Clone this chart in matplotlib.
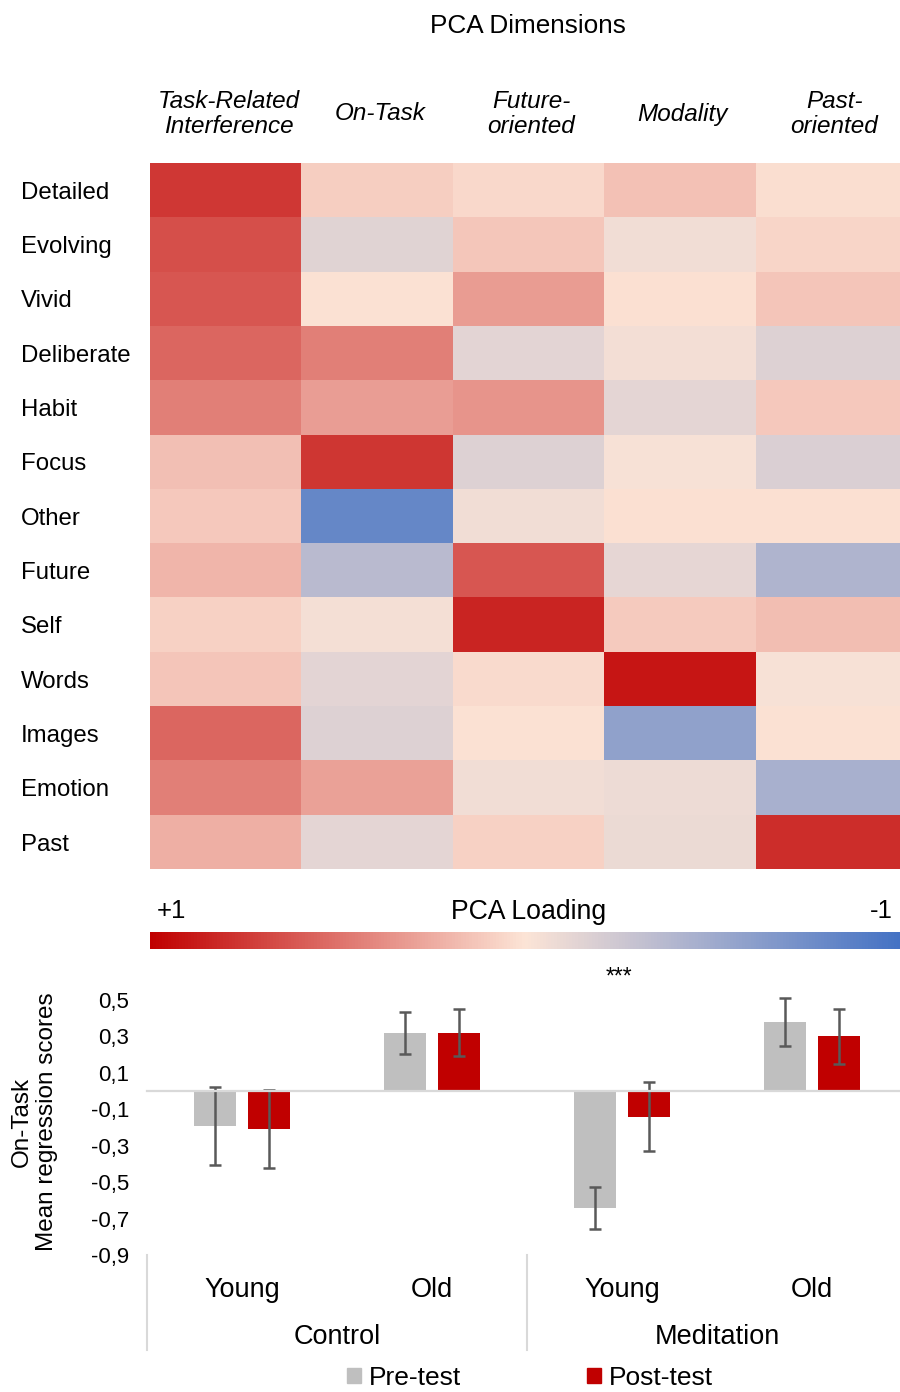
import numpy as np
import matplotlib
matplotlib.use("Agg")
import matplotlib.pyplot as plt
from matplotlib.colors import LinearSegmentedColormap
from matplotlib.transforms import blended_transform_factory
from matplotlib.patches import Patch

plt.rcParams['font.family'] = ['Liberation Sans', 'DejaVu Sans']

# ---------------- data ----------------
dimensions = ["Task-Related\nInterference", "On-Task", "Future-\noriented", "Modality", "Past-\noriented"]
items = ["Detailed", "Evolving", "Vivid", "Deliberate", "Habit", "Focus", "Other",
         "Future", "Self", "Words", "Images", "Emotion", "Past"]
loadings = np.array([
    [0.75, 0.10, 0.05, 0.15, 0.03],    # Detailed
    [0.65, -0.15, 0.13, -0.06, 0.07],  # Evolving
    [0.62, 0.01, 0.32, 0.02, 0.14],    # Vivid
    [0.55, 0.44, -0.14, -0.05, -0.17], # Deliberate
    [0.44, 0.31, 0.35, -0.13, 0.12],   # Habit
    [0.16, 0.76, -0.17, -0.03, -0.18], # Focus
    [0.12, -0.82, -0.06, 0.02, 0.02],  # Other
    [0.21, -0.36, 0.62, -0.12, -0.42], # Future
    [0.08, -0.04, 0.84, 0.11, 0.17],   # Self
    [0.14, -0.14, 0.04, 0.90, -0.03],  # Words
    [0.55, -0.17, 0.01, -0.58, 0.01],  # Images
    [0.44, 0.29, -0.06, -0.08, -0.46], # Emotion
    [0.23, -0.13, 0.08, -0.09, 0.80],  # Past
])

groups = ["Control", "Meditation"]
ages = ["Young", "Old", "Young", "Old"]
pre = [-0.19, 0.32, -0.64, 0.38]
pre_err = [0.215, 0.115, 0.115, 0.13]
post = [-0.21, 0.32, -0.14, 0.30]
post_err = [0.215, 0.13, 0.19, 0.15]
yticks = [0.5, 0.3, 0.1, -0.1, -0.3, -0.5, -0.7, -0.9]
ytick_labels = ["0,5", "0,3", "0,1", "-0,1", "-0,3", "-0,5", "-0,7", "-0,9"]
series_names = ["Pre-test", "Post-test"]

# ---------------- figure ----------------
W, H = 900, 1392
fig = plt.figure(figsize=(W / 100, H / 100), dpi=100)

def px_axes(x0, y0, x1, y1):
    return fig.add_axes([x0 / W, 1 - y1 / H, (x1 - x0) / W, (y1 - y0) / H])

def fy(y):
    return 1 - y / H

cmap = LinearSegmentedColormap.from_list(
    "pca", [(0.0, "#4472C4"), (0.5, "#FCE4D6"), (1.0, "#C00000")])

# ---- heatmap (extends slightly past the right edge, as in the original) ----
ax = px_axes(150, 163, 907, 869)
nr, nc = loadings.shape
ax.pcolormesh(np.arange(nc + 1), np.arange(nr + 1), loadings, cmap=cmap, vmin=-1, vmax=1)
ax.set_xlim(0, nc)
ax.set_ylim(nr, 0)
ax.set_xticks([])
ax.set_yticks([])
for s in ax.spines.values():
    s.set_visible(False)

tr_rows = blended_transform_factory(fig.transFigure, ax.transData)
for i, name in enumerate(items):
    ax.text(21 / W, i + 0.55, name, transform=tr_rows, ha="left", va="center", fontsize=17.3)

tr_cols = blended_transform_factory(ax.transData, fig.transFigure)
for j, name in enumerate(dimensions):
    ax.text(j + 0.52, fy(114), name, transform=tr_cols, ha="center", va="center",
            fontsize=17.5, fontstyle="italic", linespacing=1.08)

fig.text(528 / W, fy(26), "PCA Dimensions", ha="center", va="center", fontsize=18.8)

# ---- colorbar ----
cax = px_axes(150, 932, 900, 949)
sm = plt.cm.ScalarMappable(cmap=cmap, norm=plt.Normalize(-1, 1))
cb = fig.colorbar(sm, cax=cax, orientation="horizontal")
cax.invert_xaxis()
cb.outline.set_visible(False)
cax.set_xticks([])
fig.text(157 / W, fy(911), "+1", ha="left", va="center", fontsize=18.5)
fig.text(529 / W, fy(912), "PCA Loading", ha="center", va="center", fontsize=19.2)
fig.text(893 / W, fy(911), "-1", ha="right", va="center", fontsize=18.5)

# ---- bar chart ----
bx = px_axes(147, 1000, 900, 1255)
x = np.arange(len(ages))
bw = 0.226
off = 0.142
err_kw = dict(ecolor="#595959", elinewidth=1.8, capsize=4.3, capthick=1.8)
bx.bar(x - off, pre, bw, yerr=pre_err, color="#BFBFBF", error_kw=err_kw, zorder=2)
bx.bar(x + off, post, bw, yerr=post_err, color="#C00000", error_kw=err_kw, zorder=2)
bx.axhline(0, color="#D9D9D9", lw=1.6, zorder=3)
bx.set_xlim(-0.5, -0.5 + 753 / 190)
bx.set_ylim(-0.9, 0.5)
bx.set_yticks(yticks)
bx.set_yticklabels(ytick_labels, fontsize=16)
bx.tick_params(axis="y", length=0, pad=13)
bx.set_xticks(x)
bx.set_xticklabels(ages, fontsize=19.5)
bx.tick_params(axis="x", length=0, pad=16)
for s in bx.spines.values():
    s.set_visible(False)
for child in bx.get_children():
    try:
        child.set_clip_on(False)
    except Exception:
        pass

tr_b = blended_transform_factory(bx.transData, bx.transAxes)
sep_bottom = -(1350 - 1255) / 255
for xs in [-0.5, 1.5, 3.5]:
    bx.plot([xs, xs], [0, sep_bottom], transform=tr_b, color="#D9D9D9", lw=1.5, clip_on=False)
for gi, g in enumerate(groups):
    bx.text(gi * 2 + 0.5, -(1337 - 1255) / 255, g, transform=tr_b, ha="center", va="center",
            fontsize=19.5)

bx.text(1.985, 0.5 + (1000 - 984) / 182, "***", ha="center", va="baseline", fontsize=16.5,
        clip_on=False)

fig.text(22 / W, fy(1122), "On-Task", rotation=90, ha="center", va="center", fontsize=17.5)
fig.text(47 / W, fy(1122), "Mean regression scores", rotation=90, ha="center", va="center",
         fontsize=17.5)

handles = [Patch(color="#BFBFBF"), Patch(color="#C00000")]
fig.legend(handles, series_names, loc="center", bbox_to_anchor=(530 / W, fy(1378)), ncol=2,
           frameon=False, fontsize=19, handlelength=0.5, handleheight=0.5,
           handletextpad=0.3, columnspacing=4.8, borderaxespad=0, borderpad=0)

fig.savefig("out.png", dpi=100)
